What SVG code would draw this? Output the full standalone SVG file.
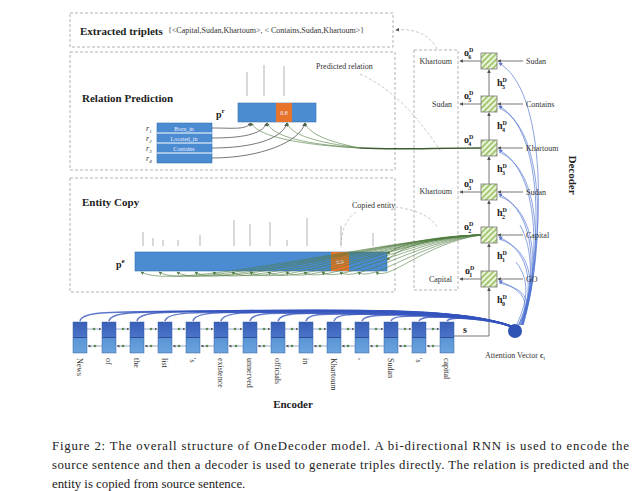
<svg xmlns="http://www.w3.org/2000/svg" width="640" height="491" viewBox="0 0 640 491">
<style>
.bg{fill:#fff}
.dash{fill:none;stroke:#aaa;stroke-width:0.9;stroke-dasharray:3,2}
.ttl{font-family:"Liberation Serif","Times New Roman",serif;font-weight:bold;font-size:11px;fill:#222}
.sm{font-family:"Liberation Serif","Times New Roman",serif;font-size:8px;fill:#333}
.tiny{font-family:"Liberation Serif","Times New Roman",serif;font-size:6px;fill:#eef}
.lbl{font-family:"Liberation Serif","Times New Roman",serif;font-size:10px;fill:#222;font-weight:bold}
.cap{font-family:"Liberation Serif","Times New Roman",serif;font-size:12.8px;fill:#222}
.vec{fill:#4a8bd2;stroke:#3a72b0;stroke-width:0.6}
.org{fill:#e8732a}
.cell{fill:url(#hatch);stroke:#777;stroke-width:0.8}
.arr{fill:none;stroke:#555;stroke-width:0.8;marker-end:url(#ah)}
.grn{fill:none;stroke:#4f7d3f;stroke-width:0.7;marker-end:url(#ag);opacity:0.85}
.blu{fill:none;stroke:#3454bd;stroke-width:1.5;opacity:0.8}
.blt{fill:none;stroke:#4a6fcf;stroke-width:0.8;opacity:0.8}
.mark{stroke:#ccc;stroke-width:1.5}
.faint{fill:none;stroke:#bbb;stroke-width:0.8;stroke-dasharray:3,2}
</style>
<defs>
<pattern id="hatch" width="4" height="4" patternUnits="userSpaceOnUse" patternTransform="rotate(45)">
<rect width="4" height="4" fill="#eef5dc"/><rect width="1.8" height="4" fill="#9cc46a"/>
</pattern>
<linearGradient id="enc" x1="0" y1="0" x2="0" y2="1">
<stop offset="0" stop-color="#3a5fb8"/><stop offset="0.48" stop-color="#4a74c8"/>
<stop offset="0.5" stop-color="#2d4d96"/><stop offset="0.53" stop-color="#5b95d6"/><stop offset="1" stop-color="#6aa3dc"/>
</linearGradient>
<marker id="ah" viewBox="0 0 6 6" refX="5" refY="3" markerWidth="5" markerHeight="5" orient="auto"><path d="M0,0L6,3L0,6z" fill="#555"/></marker>
<marker id="ag" viewBox="0 0 6 6" refX="5" refY="3" markerWidth="5" markerHeight="5" orient="auto"><path d="M0,0L6,3L0,6z" fill="#3d6a32"/></marker>
<marker id="ab" viewBox="0 0 6 6" refX="5" refY="3" markerWidth="5" markerHeight="5" orient="auto"><path d="M0,0L6,3L0,6z" fill="#3658c0"/></marker>
</defs>
<rect class="bg" width="640" height="491"/>

<g id="extracted">
<rect class="dash" x="70" y="13" width="323" height="34"/>
<text class="ttl" x="80" y="35" font-size="10">Extracted triplets</text>
<text class="sm" x="168" y="33" font-size="7">{&lt;Capital,Sudan,Khartoum&gt;, &lt; Contains,Sudan,Khartoum&gt;}</text>
</g>

<g id="relation">
<rect class="dash" x="70" y="52" width="325" height="118"/>
<text class="ttl" x="82" y="102">Relation Prediction</text>
<text class="sm" x="316" y="69">Predicted relation</text>
<line class="mark" x1="247" y1="72" x2="247" y2="96"/>
<line class="mark" x1="264" y1="65" x2="264" y2="96"/>
<line class="mark" x1="284" y1="66" x2="284" y2="96" stroke="#e9b890"/>
<rect class="vec" x="238" y="103" width="78" height="19"/>
<rect class="org" x="276" y="103" width="16" height="19"/>
<text class="tiny" x="284" y="115" text-anchor="middle">0.8</text>
<text class="lbl" x="216" y="118" font-size="11">p<tspan font-size="7" dy="-5">r</tspan></text>
<rect class="vec" x="157" y="123" width="55" height="40"/>
<line x1="157" y1="133" x2="212" y2="133" stroke="#fff" stroke-width="1"/>
<line x1="157" y1="143" x2="212" y2="143" stroke="#fff" stroke-width="1"/>
<line x1="157" y1="153" x2="212" y2="153" stroke="#fff" stroke-width="1"/>
<text class="tiny" x="184" y="130.5" text-anchor="middle">Born_in</text>
<text class="tiny" x="184" y="140.5" text-anchor="middle">Located_in</text>
<text class="tiny" x="184" y="150.5" text-anchor="middle">Contains</text>
<text class="sm" x="146" y="131" font-style="italic">r<tspan font-size="5" dy="2">1</tspan></text>
<text class="sm" x="146" y="141" font-style="italic">r<tspan font-size="5" dy="2">2</tspan></text>
<text class="sm" x="146" y="151" font-style="italic">r<tspan font-size="5" dy="2">3</tspan></text>
<text class="sm" x="146" y="161" font-style="italic">r<tspan font-size="5" dy="2">4</tspan></text>
</g>

<g id="entity">
<rect class="dash" x="70" y="178" width="325" height="114"/>
<text class="ttl" x="82" y="206">Entity Copy</text>
<text class="sm" x="352" y="208">Copied entity</text>
<g class="mark">
<line x1="143" y1="232" x2="143" y2="246"/><line x1="153" y1="238" x2="153" y2="246"/>
<line x1="163" y1="240" x2="163" y2="246"/><line x1="178" y1="240" x2="178" y2="246"/>
<line x1="200" y1="235" x2="200" y2="246"/><line x1="234" y1="220" x2="234" y2="246"/>
<line x1="250" y1="224" x2="250" y2="246"/><line x1="270" y1="222" x2="270" y2="246"/>
<line x1="287" y1="240" x2="287" y2="246"/><line x1="307" y1="218" x2="307" y2="246"/>
<line x1="341" y1="226" x2="341" y2="246"/><line x1="373" y1="233" x2="373" y2="246"/>
</g>
<rect class="vec" x="135" y="252" width="252" height="19"/>
<rect class="org" x="331" y="252" width="18" height="19"/>
<text class="tiny" x="340" y="264" text-anchor="middle">0.9</text>
<text class="lbl" x="116" y="268" font-size="11">p<tspan font-size="7" dy="-5">e</tspan></text>
</g>

<g id="outputs">
<rect class="dash" x="414" y="50" width="44" height="240"/>
<text class="sm" x="452" y="64" text-anchor="end">Khartoum</text>
<text class="sm" x="452" y="107" text-anchor="end">Sudan</text>
<text class="sm" x="452" y="194" text-anchor="end">Khartoum</text>
<text class="sm" x="452" y="282" text-anchor="end">Capital</text>
</g>

<g id="connectors">
<path class="faint" d="M437,49 C430,35 415,28 396,30" marker-end="url(#ah)"/>
<path class="faint" d="M360,74 C395,90 420,120 440,150"/>
<path class="faint" d="M356,212 C345,220 341,232 341,248"/>
<path class="faint" d="M395,207 C420,210 432,218 438,228"/>
<path class="arr" d="M212,128 C235,128 245,130 251,123"/>
<path class="arr" d="M212,138 C240,138 262,135 267,123"/>
<path class="arr" d="M212,148 C250,148 282,140 287,123"/>
<path class="arr" d="M212,158 C260,158 300,142 305,123"/>
<path d="M481,148 C430,148 395,150 360,148" fill="none" stroke="#3d5a33" stroke-width="1.4"/>
<path class="grn" d="M360,148 C320,146 260,140 251,123"/>
<path class="grn" d="M360,148 C320,145 275,140 267,123"/>
<path class="grn" d="M360,148 C330,144 292,138 287,123"/>
<path class="grn" d="M360,148 C335,143 310,136 305,123"/>
<g>
<path class="grn" d="M481,235 C400,236 175,292 141,272"/>
<path class="grn" d="M481,235 C400,236 190,292 159,272"/>
<path class="grn" d="M481,235 C400,236 205,292 177,272"/>
<path class="grn" d="M481,235 C400,236 222,291 195,272"/>
<path class="grn" d="M481,235 C400,236 240,291 213,272"/>
<path class="grn" d="M481,235 C400,237 258,290 232,272"/>
<path class="grn" d="M481,235 C400,237 275,290 250,272"/>
<path class="grn" d="M481,235 C400,238 292,289 268,272"/>
<path class="grn" d="M481,235 C400,238 308,288 286,272"/>
<path class="grn" d="M481,235 C405,239 324,287 304,272"/>
<path class="grn" d="M481,235 C410,240 340,286 322,272"/>
<path class="grn" d="M481,235 C415,241 356,285 340,272"/>
<path class="grn" d="M481,235 C420,242 372,284 358,272"/>
<path class="grn" d="M481,235 C425,243 388,282 376,272"/>
<path class="grn" d="M481,235 C430,236 400,244 387,254"/>
<path class="grn" d="M481,235 C430,236 400,248 387,260"/>
</g>
<line class="arr" x1="481" y1="61" x2="460" y2="61"/>
<line class="arr" x1="481" y1="104" x2="460" y2="104"/>
<line class="arr" x1="481" y1="192" x2="460" y2="192"/>
<line class="arr" x1="481" y1="279" x2="460" y2="279"/>
<line class="arr" x1="523" y1="61" x2="498" y2="61"/>
<line class="arr" x1="523" y1="104" x2="498" y2="104"/>
<line class="arr" x1="523" y1="148" x2="498" y2="148"/>
<line class="arr" x1="523" y1="192" x2="498" y2="192"/>
<line class="arr" x1="523" y1="235" x2="498" y2="235"/>
<line class="arr" x1="523" y1="279" x2="498" y2="279"/>
<path class="arr" d="M454,336 L489,336 L489,288"/>
<line class="arr" x1="489" y1="271" x2="489" y2="244"/>
<line class="arr" x1="489" y1="227" x2="489" y2="201"/>
<line class="arr" x1="489" y1="184" x2="489" y2="157"/>
<line class="arr" x1="489" y1="140" x2="489" y2="113"/>
<line class="arr" x1="489" y1="96" x2="489" y2="70"/>
<g>
<path class="blt" d="M518,325 C530,305 528,292 499,281" marker-end="url(#ab)"/>
<path class="blt" d="M520,325 C534,290 532,252 499,237" marker-end="url(#ab)"/>
<path class="blt" d="M521,325 C538,275 536,212 499,194" marker-end="url(#ab)"/>
<path class="blt" d="M522,325 C541,260 540,172 499,150" marker-end="url(#ab)"/>
<path class="blt" d="M522,325 C544,245 543,130 499,106" marker-end="url(#ab)"/>
<path class="blt" d="M523,325 C547,230 546,90 499,63" marker-end="url(#ab)"/>
<path class="blt" d="M519,325 C532,303 530,290 499,283"/>
<path class="blt" d="M521,325 C536,288 534,250 499,239"/>
<path class="blt" d="M522,325 C540,273 538,210 499,196"/>
<path class="blt" d="M523,325 C543,258 542,170 499,152"/>
<path class="blt" d="M523,325 C546,243 545,128 499,108"/>
<path class="blt" d="M517,324 C528,300 530,280 516,262"/>
<path class="blt" d="M519,324 C534,290 534,250 520,225"/>
</g>
<g>
<path class="blu" d="M80,321 C82,311 110,312 200,311 C380,309 470,309 512,327"/>
<path class="blu" d="M109,321 C111,311 140,312 220,311 C385,309 470,310 512,327"/>
<path class="blu" d="M137,321 C139,311 165,312 240,311 C390,310 472,310 512,327"/>
<path class="blu" d="M165,321 C167,312 190,312 260,312 C395,310 474,311 512,327"/>
<path class="blu" d="M193,321 C195,312 215,312 280,312 C400,311 476,312 513,327"/>
<path class="blu" d="M221,321 C223,312 245,312 300,312 C405,311 478,312 513,327"/>
<path class="blu" d="M250,321 C252,312 270,313 320,313 C410,312 480,313 513,327"/>
<path class="blu" d="M278,321 C280,313 295,313 340,313 C415,313 482,314 513,327"/>
<path class="blu" d="M306,321 C308,313 325,314 360,314 C420,314 484,315 513,327"/>
<path class="blu" d="M334,321 C336,314 350,314 380,314 C430,315 486,316 513,327"/>
<path class="blu" d="M362,321 C364,315 380,315 400,315 C440,316 488,317 513,327"/>
<path class="blu" d="M391,321 C393,316 405,316 420,316 C450,317 490,318 513,327"/>
<path class="blu" d="M419,321 C421,317 430,317 440,317 C460,318 492,319 513,327"/>
<path class="blu" d="M447,321 C449,318 455,318 462,318 C480,319 496,320 513,327"/>
</g>
</g>

<g id="decoder">
<rect class="cell" x="481" y="53" width="16" height="16"/>
<rect class="cell" x="481" y="96" width="16" height="16"/>
<rect class="cell" x="481" y="140" width="16" height="16"/>
<rect class="cell" x="481" y="184" width="16" height="16"/>
<rect class="cell" x="481" y="227" width="16" height="16"/>
<rect class="cell" x="481" y="271" width="16" height="16"/>
<text class="lbl" x="464" y="56">o<tspan font-size="6" dy="-4">D</tspan><tspan font-size="6" dx="-5" dy="7">6</tspan></text>
<text class="lbl" x="464" y="99">o<tspan font-size="6" dy="-4">D</tspan><tspan font-size="6" dx="-5" dy="7">5</tspan></text>
<text class="lbl" x="464" y="143">o<tspan font-size="6" dy="-4">D</tspan><tspan font-size="6" dx="-5" dy="7">4</tspan></text>
<text class="lbl" x="464" y="187">o<tspan font-size="6" dy="-4">D</tspan><tspan font-size="6" dx="-5" dy="7">3</tspan></text>
<text class="lbl" x="464" y="230">o<tspan font-size="6" dy="-4">D</tspan><tspan font-size="6" dx="-5" dy="7">2</tspan></text>
<text class="lbl" x="465" y="274">o<tspan font-size="6" dy="-4">D</tspan><tspan font-size="6" dx="-5" dy="7">1</tspan></text>
<text class="lbl" x="497" y="86">h<tspan font-size="6" dy="-4">D</tspan><tspan font-size="6" dx="-5" dy="7">5</tspan></text>
<text class="lbl" x="497" y="129">h<tspan font-size="6" dy="-4">D</tspan><tspan font-size="6" dx="-5" dy="7">4</tspan></text>
<text class="lbl" x="497" y="172">h<tspan font-size="6" dy="-4">D</tspan><tspan font-size="6" dx="-5" dy="7">3</tspan></text>
<text class="lbl" x="497" y="216">h<tspan font-size="6" dy="-4">D</tspan><tspan font-size="6" dx="-5" dy="7">2</tspan></text>
<text class="lbl" x="497" y="259">h<tspan font-size="6" dy="-4">D</tspan><tspan font-size="6" dx="-5" dy="7">1</tspan></text>
<text class="lbl" x="497" y="303">h<tspan font-size="6" dy="-4">D</tspan><tspan font-size="6" dx="-5" dy="7">0</tspan></text>
<text class="sm" x="526" y="64">Sudan</text>
<text class="sm" x="526" y="107">Contains</text>
<text class="sm" x="526" y="151">Khartoum</text>
<text class="sm" x="526" y="195">Sudan</text>
<text class="sm" x="526" y="238">Capital</text>
<text class="sm" x="526" y="282">GO</text>
<text class="ttl" transform="translate(569,175) rotate(90)" text-anchor="middle">Decoder</text>
<text class="lbl" x="463" y="333">s</text>
</g>

<g id="attention">
<circle cx="515" cy="331" r="7" fill="#2f52b5"/>
<text class="sm" x="485" y="358" font-size="8.5">Attention Vector <tspan font-weight="bold">c</tspan><tspan font-size="5.5" dy="2">t</tspan></text>
</g>

<g id="encoder">
<g fill="url(#enc)" stroke="#3a5f9f" stroke-width="0.5">
<rect x="73" y="322" width="14" height="31"/><rect x="102" y="322" width="14" height="31"/>
<rect x="130" y="322" width="14" height="31"/><rect x="158" y="322" width="14" height="31"/>
<rect x="186" y="322" width="14" height="31"/><rect x="214" y="322" width="14" height="31"/>
<rect x="243" y="322" width="14" height="31"/><rect x="271" y="322" width="14" height="31"/>
<rect x="299" y="322" width="14" height="31"/><rect x="327" y="322" width="14" height="31"/>
<rect x="355" y="322" width="14" height="31"/><rect x="384" y="322" width="14" height="31"/>
<rect x="412" y="322" width="14" height="31"/><rect x="440" y="322" width="14" height="31"/>
</g>
<g stroke="#4a6fae" stroke-width="0.6" marker-end="url(#ah)">
<line x1="87" y1="329" x2="101" y2="329"/><line x1="116" y1="329" x2="129" y2="329"/>
<line x1="144" y1="329" x2="157" y2="329"/><line x1="172" y1="329" x2="185" y2="329"/>
<line x1="200" y1="329" x2="213" y2="329"/><line x1="228" y1="329" x2="242" y2="329"/>
<line x1="257" y1="329" x2="270" y2="329"/><line x1="285" y1="329" x2="298" y2="329"/>
<line x1="313" y1="329" x2="326" y2="329"/><line x1="341" y1="329" x2="354" y2="329"/>
<line x1="369" y1="329" x2="383" y2="329"/><line x1="398" y1="329" x2="411" y2="329"/>
<line x1="426" y1="329" x2="439" y2="329"/>
<line x1="102" y1="346" x2="88" y2="346"/><line x1="130" y1="346" x2="117" y2="346"/>
<line x1="158" y1="346" x2="145" y2="346"/><line x1="186" y1="346" x2="173" y2="346"/>
<line x1="214" y1="346" x2="201" y2="346"/><line x1="243" y1="346" x2="229" y2="346"/>
<line x1="271" y1="346" x2="258" y2="346"/><line x1="299" y1="346" x2="286" y2="346"/>
<line x1="327" y1="346" x2="314" y2="346"/><line x1="355" y1="346" x2="342" y2="346"/>
<line x1="384" y1="346" x2="370" y2="346"/><line x1="412" y1="346" x2="399" y2="346"/>
<line x1="440" y1="346" x2="427" y2="346"/>
</g>
<g fill="#5a8a4a">
<circle cx="94" cy="329" r="1.3"/><circle cx="123" cy="329" r="1.3"/><circle cx="151" cy="329" r="1.3"/><circle cx="179" cy="329" r="1.3"/><circle cx="207" cy="329" r="1.3"/><circle cx="235" cy="329" r="1.3"/><circle cx="264" cy="329" r="1.3"/><circle cx="292" cy="329" r="1.3"/><circle cx="320" cy="329" r="1.3"/><circle cx="348" cy="329" r="1.3"/><circle cx="376" cy="329" r="1.3"/><circle cx="405" cy="329" r="1.3"/><circle cx="433" cy="329" r="1.3"/>
<circle cx="95" cy="346" r="1.3"/><circle cx="123" cy="346" r="1.3"/><circle cx="151" cy="346" r="1.3"/><circle cx="179" cy="346" r="1.3"/><circle cx="207" cy="346" r="1.3"/><circle cx="236" cy="346" r="1.3"/><circle cx="264" cy="346" r="1.3"/><circle cx="292" cy="346" r="1.3"/><circle cx="320" cy="346" r="1.3"/><circle cx="348" cy="346" r="1.3"/><circle cx="377" cy="346" r="1.3"/><circle cx="405" cy="346" r="1.3"/><circle cx="433" cy="346" r="1.3"/>
</g>
<g class="sm">
<text transform="translate(77,358) rotate(90)">News</text>
<text transform="translate(106,358) rotate(90)">of</text>
<text transform="translate(134,358) rotate(90)">the</text>
<text transform="translate(162,358) rotate(90)">list</text>
<text transform="translate(190,358) rotate(90)">'s</text>
<text transform="translate(218,358) rotate(90)">existence</text>
<text transform="translate(247,358) rotate(90)">unnerved</text>
<text transform="translate(275,358) rotate(90)">officials</text>
<text transform="translate(303,358) rotate(90)">in</text>
<text transform="translate(331,358) rotate(90)">Khartoum</text>
<text transform="translate(359,358) rotate(90)">,</text>
<text transform="translate(388,358) rotate(90)">Sudan</text>
<text transform="translate(416,358) rotate(90)">'s</text>
<text transform="translate(444,358) rotate(90)">capital</text>
</g>
<text class="ttl" x="293" y="408" text-anchor="middle">Encoder</text>
</g>

<g id="caption">
<text class="cap" x="52" y="450" textLength="577" lengthAdjust="spacing">Figure 2:   The overall structure of OneDecoder model. A bi-directional RNN is used to encode the</text>
<text class="cap" x="52" y="469" textLength="577" lengthAdjust="spacing">source sentence and then a decoder is used to generate triples directly. The relation is predicted and the</text>
<text class="cap" x="52" y="488">entity is copied from source sentence.</text>
</g>
</svg>
